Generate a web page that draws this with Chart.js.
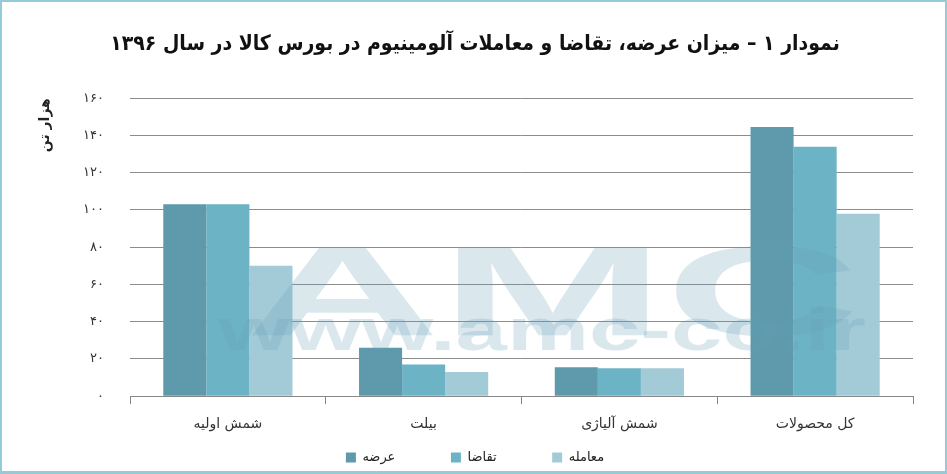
<!DOCTYPE html>
<html>
<head>
<meta charset="utf-8">
<script src="https://cdn.jsdelivr.net/npm/chart.js@4.4.0/dist/chart.umd.min.js"></script>
<style>
  body { margin: 0; background: #fff; }
  canvas { display: block; }
</style>
</head>
<body>
<canvas id="myChart" width="947" height="474"></canvas>
<script>
var categories = ["شمش اولیه", "بیلت", "شمش آلیاژی", "کل محصولات"];
var seriesNames = ["عرضه", "تقاضا", "معامله"];
var supply = [103, 26, 15.5, 144.5];
var demand = [103, 17, 15, 134];
var traded = [70, 13, 15, 98];
var yTicks = [0, 20, 40, 60, 80, 100, 120, 140, 160];

var colors = ["#5e9aab", "#6db3c6", "#a3cbd7"];

function faDigits(n) {
  return String(n).replace(/[0-9]/g, function (d) { return "۰۱۲۳۴۵۶۷۸۹"[d]; });
}

// frame and watermark
var framePlugin = {
  id: "frame",
  beforeDraw: function (chart) {
    var c = chart.ctx;
    c.save();
    c.fillStyle = "#fff";
    c.fillRect(0, 0, chart.width, chart.height);
    c.restore();
  },
  afterDatasetsDraw: function (chart) {
    var c = chart.ctx;
    c.save();
    c.fillStyle = "rgba(100,160,185,0.24)";
    c.font = "bold 128px 'Liberation Sans'";
    var w = c.measureText("AMC").width;
    c.translate(245, 300);
    c.scale(615 / w, 1);
    c.fillText("AMC", 0, 0);
    c.restore();
    c.save();
    c.fillStyle = "rgba(100,160,185,0.24)";
    c.font = "bold 60px 'Liberation Sans'";
    var w2 = c.measureText("www.amc-co.ir").width;
    c.translate(218, 333);
    c.scale(648 / w2, 1);
    c.fillText("www.amc-co.ir", 0, 0);
    c.restore();
  },
  afterDraw: function (chart) {
    var c = chart.ctx;
    c.save();
    c.fillStyle = "#95cbd9";
    c.fillRect(0, 0, chart.width, 2);
    c.fillRect(0, 0, 2, chart.height);
    c.fillRect(chart.width - 2, 0, 2, chart.height);
    c.fillRect(0, chart.height - 3, chart.width, 3);
    c.restore();
  }
};

var ctx = document.getElementById("myChart").getContext("2d");
var chart = new Chart(ctx, {
  type: "bar",
  data: {
    labels: categories,
    datasets: [
      { label: seriesNames[0], data: supply, backgroundColor: colors[0] },
      { label: seriesNames[1], data: demand, backgroundColor: colors[1] },
      { label: seriesNames[2], data: traded, backgroundColor: colors[2] }
    ]
  },
  options: {
    responsive: false,
    animation: false,
    categoryPercentage: 0.66,
    barPercentage: 1.0,
    layout: { padding: { left: 37, right: 34, top: 0, bottom: 0 } },
    plugins: {
      title: {
        display: true,
        text: "نمودار ۱ – میزان عرضه، تقاضا و معاملات آلومینیوم در بورس کالا در سال ۱۳۹۶",
        color: "#111",
        font: { family: "'DejaVu Sans Condensed', 'DejaVu Sans'", size: 21, weight: "bold" },
        padding: { top: 32, bottom: 41 }
      },
      legend: {
        position: "bottom",
        labels: {
          color: "#222",
          boxWidth: 10,
          boxHeight: 10,
          padding: 6,
          font: { family: "'DejaVu Sans'", size: 13 },
          generateLabels: function (chart) {
            var items = Chart.defaults.plugins.legend.labels.generateLabels(chart);
            items.forEach(function (it, i) {
              if (i < items.length - 1) it.text = it.text + "\u00A0\u00A0\u00A0\u00A0\u00A0\u00A0\u00A0\u00A0\u00A0\u00A0\u00A0\u00A0";
            });
            return items;
          }
        }
      },
      tooltip: { enabled: false }
    },
    scales: {
      x: {
        grid: {
          offset: true,
          drawOnChartArea: false,
          drawTicks: true,
          tickLength: 8,
          color: "#888"
        },
        border: { display: true, color: "#888" },
        ticks: {
          color: "#333",
          padding: 12,
          font: { family: "'DejaVu Sans'", size: 14 }
        }
      },
      y: {
        min: 0,
        max: 160,
        afterBuildTicks: function (axis) {
          axis.ticks = yTicks.map(function (v) { return { value: v }; });
        },
        afterFit: function (axis) { axis.width = 93; },
        grid: { color: "#8c8c8c", drawTicks: false },
        border: { display: false },
        ticks: {
          color: "#333",
          padding: 26,
          font: { family: "'DejaVu Sans'", size: 13 },
          callback: function (v) { return faDigits(v); }
        },
        title: {
          display: true,
          text: "هزار تن",
          align: "end",
          color: "#222",
          font: { family: "'DejaVu Sans'", size: 14, weight: "bold" },
          padding: { top: 0, bottom: 0 }
        }
      }
    }
  },
  plugins: [framePlugin]
});
</script>
</body>
</html>
